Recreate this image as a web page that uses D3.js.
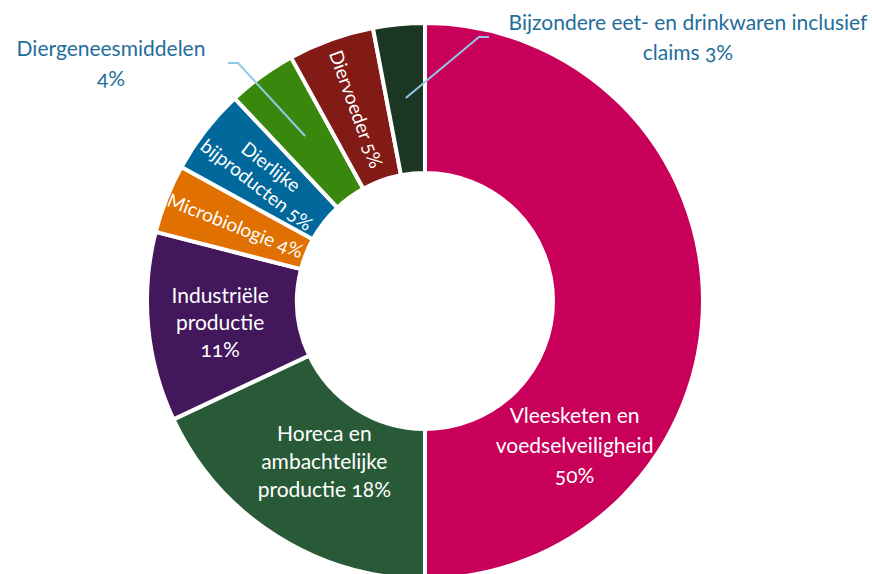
<!DOCTYPE html>
<html>
<head>
<meta charset="utf-8">
<script src="https://cdn.jsdelivr.net/npm/d3@7"></script>
<style>
  html, body { margin: 0; padding: 0; background: #fff; }
  svg { display: block; font-family: Lato, "Open Sans", sans-serif; font-weight: 400; font-variant-numeric: oldstyle-nums; }
</style>
</head>
<body>
<svg id="chart" width="872" height="574"></svg>
<script>
// Categories (clockwise from 12 o'clock), shares in percent and slice colours
const categories = [
  "Vleesketen en voedselveiligheid",
  "Horeca en ambachtelijke productie",
  "Industriële productie",
  "Microbiologie",
  "Dierlijke bijproducten",
  "Diergeneesmiddelen",
  "Diervoeder",
  "Bijzondere eet- en drinkwaren inclusief claims"
];
const shares = [50, 18, 11, 4, 5, 4, 5, 3];
const colors = ["#c8005a", "#285a37", "#42175c", "#e07000", "#01689b", "#39870c", "#821a16", "#1b3623"];

// Label text per slice, one entry per line
const labelLines = [
  ["Vleesketen en", "voedselveiligheid", "50%"],
  ["Horeca en", "ambachtelijke", "productie 18%"],
  ["Industriële", "productie", "11%"],
  ["Microbiologie 4%"],
  ["Dierlijke", "bijproducten 5%"],
  ["Diergeneesmiddelen", "4%"],
  ["Diervoeder 5%"],
  ["Bijzondere eet- en drinkwaren inclusief", "claims 3%"]
];
// How each label is placed: horizontal inside, rotated along the radius, or outside with a leader
const labelMode = ["inside", "inside", "inside", "radial", "radial", "outside", "radial", "outside"];

const svg = d3.select("#chart");
const cx = 425, cy = 301;
const outerR = 278, innerR = 128, labelR = 204;

const g = svg.append("g").attr("transform", `translate(${cx},${cy})`);

const pie = d3.pie().sort(null).value(d => d.value);
const arcs = pie(shares.map((v, i) => ({ value: v, i })));
const arc = d3.arc().innerRadius(innerR).outerRadius(outerR);

g.selectAll("path.slice")
  .data(arcs)
  .join("path")
  .attr("class", "slice")
  .attr("d", arc)
  .attr("fill", d => colors[d.data.i])
  .attr("stroke", "#fff")
  .attr("stroke-width", 4)
  .attr("stroke-linejoin", "miter");

const polar = (a, r) => [Math.sin(a) * r, -Math.cos(a) * r];
const fontSize = 21;

// Horizontal labels inside the big slices: [angle in degrees, radius]
const insidePlace = { 0: [134, 208], 1: [212, 190], 2: [264, 206] };
const lineH = { 0: 30, 1: 28, 2: 27 };

arcs.forEach(d => {
  const i = d.data.i;
  const lines = labelLines[i];
  const mid = (d.startAngle + d.endAngle) / 2;
  if (labelMode[i] === "inside") {
    const [deg, r] = insidePlace[i];
    const [x, y] = polar(deg * Math.PI / 180, r);
    const lh = lineH[i];
    const t = g.append("text")
      .attr("text-anchor", "middle")
      .attr("fill", "#fff")
      .attr("font-size", fontSize);
    lines.forEach((s, k) => {
      t.append("tspan")
        .attr("x", x)
        .attr("y", y + (k - (lines.length - 1) / 2) * lh)
        .attr("dy", "0.35em")
        .text(s);
    });
  } else if (labelMode[i] === "radial") {
    const [x, y] = polar(mid, labelR);
    const rot = Math.atan2(Math.cos(mid), -Math.sin(mid)) * 180 / Math.PI;
    const t = g.append("text")
      .attr("transform", `translate(${x},${y}) rotate(${rot})`)
      .attr("text-anchor", "middle")
      .attr("fill", "#fff")
      .attr("font-size", 19);
    const lh = 23;
    lines.forEach((s, k) => {
      t.append("tspan")
        .attr("x", 0)
        .attr("y", (k - (lines.length - 1) / 2) * lh)
        .attr("dy", "0.35em")
        .text(s);
    });
  }
});

// Outside labels with leader lines
const outsidePlace = {
  5: { text: [111, 49], elbow: [-187, -238], end: [-197, -238] },
  7: { text: [688, 23], elbow: [54, -264], end: [64, -264] }
};
arcs.forEach(d => {
  const i = d.data.i;
  if (labelMode[i] !== "outside") return;
  const mid = (d.startAngle + d.endAngle) / 2;
  const p = outsidePlace[i];
  const start = polar(mid, labelR);
  g.append("path")
    .attr("d", d3.line()([start, p.elbow, p.end]))
    .attr("fill", "none")
    .attr("stroke", "#8fcae7")
    .attr("stroke-width", 2);
  const t = svg.append("text")
    .attr("text-anchor", "middle")
    .attr("fill", "#1f6d9c")
    .attr("font-size", fontSize);
  labelLines[i].forEach((s, k) => {
    t.append("tspan")
      .attr("x", p.text[0])
      .attr("y", p.text[1] + k * 30)
      .attr("dy", "0.35em")
      .text(s);
  });
});
</script>
</body>
</html>
